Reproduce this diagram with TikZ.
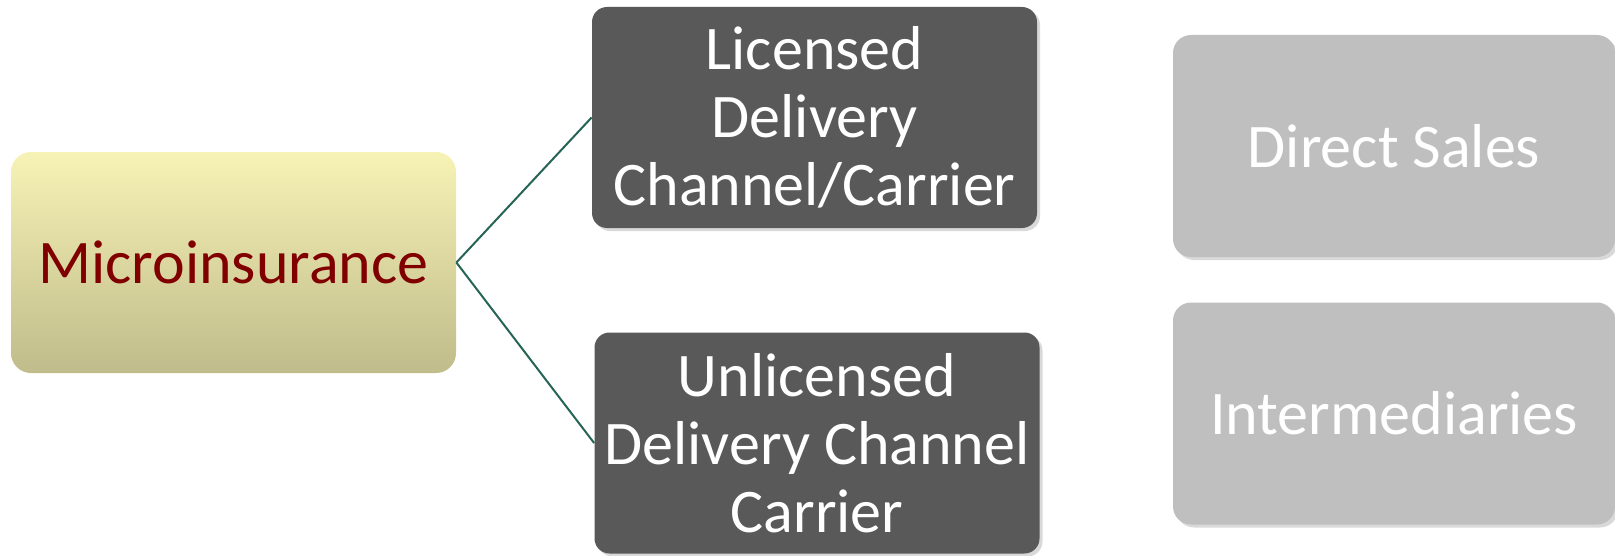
\documentclass[tikz,border=0pt]{standalone}
\usepackage{fontspec}
\setmainfont{Carlito}
\usetikzlibrary{positioning, shadows}

\definecolor{rootTop}{RGB}{247,242,181}
\definecolor{rootMid}{RGB}{232,227,166}
\definecolor{rootBot}{RGB}{192,188,139}
\definecolor{rootText}{RGB}{128,0,0}
\definecolor{darkBox}{RGB}{89,89,89}
\definecolor{lightBox}{RGB}{191,191,191}
\definecolor{linkGreen}{RGB}{38,100,86}

\begin{document}
\begin{tikzpicture}[
    x=0.5pt, y=-0.5pt,
    root/.style={
        rounded corners=10pt,
        top color=rootTop,
        middle color=rootMid,
        bottom color=rootBot,
        text=rootText,
        align=center,
        minimum width=222.5pt,
        minimum height=110.5pt,
        font=\fontsize{31}{36}\selectfont
    },
    channel/.style={
        rounded corners=7.5pt,
        fill=darkBox,
        text=white,
        align=center,
        minimum width=222.5pt,
        minimum height=110.5pt,
        inner sep=2pt,
        font=\fontsize{31}{34}\selectfont,
        drop shadow={opacity=0.3, shadow xshift=1.5pt, shadow yshift=-1.5pt}
    },
    sales/.style={
        rounded corners=9pt,
        fill=lightBox,
        text=white,
        align=center,
        minimum width=221pt,
        minimum height=111pt,
        font=\fontsize{31}{36}\selectfont,
        drop shadow={opacity=0.3, shadow xshift=1.5pt, shadow yshift=-1.5pt}
    },
    link/.style={draw=linkGreen, line width=1pt}
]
\useasboundingbox (0,0) rectangle (1615,556);

% Root
\node[root] (micro) at (233.5,262.5) {Microinsurance};

% Delivery channels
\node[channel] (licensed) at (814.5,117.5) {Licensed\\Delivery\\Channel/Carrier};
\node[channel] (unlicensed) at (817,443) {Unlicensed\\Delivery Channel\\Carrier};

% Sales routes
\node[sales] (direct) at (1394,146) {Direct Sales};
\node[sales] (inter) at (1394,413.5) {Intermediaries};

% Links
\draw[link] (micro.east) -- (licensed.west);
\draw[link] (micro.east) -- (unlicensed.west);

\end{tikzpicture}
\end{document}
